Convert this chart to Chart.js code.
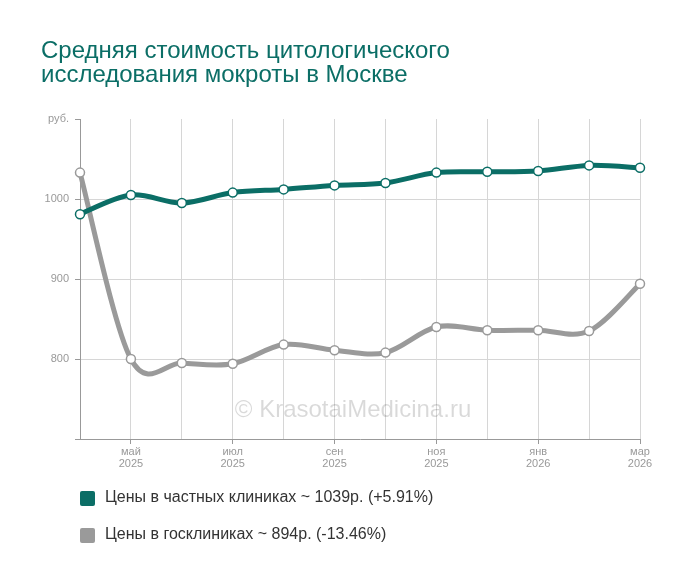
<!DOCTYPE html>
<html>
<head>
<meta charset="utf-8">
<script src="https://cdn.jsdelivr.net/npm/chart.js@4.4.1/dist/chart.umd.min.js"></script>
<style>
  body { margin: 0; background: #fff; font-family: Arial, "Liberation Sans", sans-serif; }
  #wrap { position: relative; width: 700px; height: 582px; }
  #title { position: absolute; left: 41px; top: 38px; font-size: 24px; line-height: 24px; color: #0b6e66; }
  #legend { position: absolute; left: 80px; top: 488px; }
  .item { height: 37px; display: flex; align-items: flex-start; font-size: 16px; color: #333; }
  .box { width: 15px; height: 15px; border-radius: 2px; margin: 3px 10px 0 0; }
</style>
</head>
<body>
<div id="wrap">
  <canvas id="priceChart" width="700" height="582"></canvas>
  <div id="title">Средняя стоимость цитологического<br>исследования мокроты в Москве</div>
  <div id="legend"></div>
</div>
<script>
const months = ['апр', 'май', 'июн', 'июл', 'авг', 'сен', 'окт', 'ноя', 'дек', 'янв', 'фев', 'мар'];
const years = ['2025', '2025', '2025', '2025', '2025', '2025', '2025', '2025', '2025', '2026', '2026', '2026'];
const privatePrices = [981, 1005, 995, 1008, 1012, 1017, 1020, 1033, 1034, 1035, 1042, 1039];
const statePrices = [1033, 800, 795, 794, 818, 811, 808, 840, 836, 836, 835, 894];
const seriesNames = ['Цены в частных клиниках ~ 1039р. (+5.91%)', 'Цены в госклиниках ~ 894р. (-13.46%)'];
const seriesColors = ['#0b6e66', '#9a9a9a'];

// the original curves look like a plain catmull-rom spline, swap chart.js control points for those
const catmullRom = {
    id: 'catmullRom',
    beforeDatasetDraw(chart, args) {
        const line = args.meta.dataset;
        line.updateControlPoints(chart.chartArea, 'x');
        const pts = line.points;
        const n = pts.length;
        for (let i = 0; i < n; i++) {
            const prev = pts[Math.max(i - 1, 0)];
            const next = pts[Math.min(i + 1, n - 1)];
            const p = pts[i];
            p.cp1x = p.x - (next.x - prev.x) / 6;
            p.cp1y = p.y - (next.y - prev.y) / 6;
            p.cp2x = p.x + (next.x - prev.x) / 6;
            p.cp2y = p.y + (next.y - prev.y) / 6;
        }
    }
};

const watermark = {
    id: 'watermark',
    beforeDatasetsDraw(chart) {
        const ctx = chart.ctx;
        const area = chart.chartArea;
        ctx.save();
        ctx.font = '24px Arial, "Liberation Sans", sans-serif';
        ctx.fillStyle = 'rgba(0, 0, 0, 0.15)';
        ctx.textAlign = 'center';
        ctx.fillText('© KrasotaiMedicina.ru', (area.left + area.right) / 2 - 7, area.bottom - 22);
        ctx.restore();
    }
};

const ctx = document.getElementById('priceChart');
const chart = new Chart(ctx, {
    type: 'line',
    data: {
        labels: months,
        datasets: [privatePrices, statePrices].map((values, i) => ({
            label: seriesNames[i],
            data: values,
            borderColor: seriesColors[i],
            borderWidth: 5,
            tension: 0.4,
            pointRadius: 4.5,
            pointBackgroundColor: '#fff',
            pointBorderColor: seriesColors[i],
            pointBorderWidth: 1.5,
        })),
    },
    options: {
        responsive: false,
        animation: false,
        layout: { padding: { left: 41, right: 60, top: 119, bottom: 103 } },
        scales: {
            x: {
                offset: false,
                afterFit: (scale) => { scale.height = 40; },
                border: { color: '#999' },
                grid: {
                    color: '#d6d6d6',
                    tickLength: 5,
                    tickColor: (c) => c.index % 2 === 1 ? '#999' : 'transparent',
                },
                ticks: {
                    autoSkip: false,
                    maxRotation: 0,
                    padding: 2,
                    color: '#999',
                    font: { size: 11, family: 'Arial, "Liberation Sans", sans-serif', lineHeight: 1.1 },
                    callback: function(value, index) {
                        return index % 2 === 1 ? [months[index], years[index]] : '';
                    }
                }
            },
            y: {
                min: 700,
                max: 1100,
                afterFit: (scale) => { scale.width = 39; },
                border: { color: '#999' },
                grid: {
                    color: (c) => (c.tick && (c.tick.value === 1100 || c.tick.value === 700)) ? 'transparent' : '#d6d6d6',
                    tickLength: 5,
                    tickColor: '#999',
                },
                ticks: {
                    stepSize: 100,
                    padding: 6,
                    color: '#999',
                    font: { size: 11, family: 'Arial, "Liberation Sans", sans-serif' },
                    callback: function(value) {
                        if (value === 1100) return 'руб.';
                        if (value === 700) return '';
                        return value;
                    }
                }
            }
        },
        plugins: {
            legend: { display: false },
            tooltip: { enabled: false },
        }
    },
    plugins: [catmullRom, watermark]
});

const legend = document.getElementById('legend');
chart.data.datasets.forEach((ds) => {
    const row = document.createElement('div');
    row.className = 'item';
    const box = document.createElement('span');
    box.className = 'box';
    box.style.background = ds.borderColor;
    row.appendChild(box);
    row.appendChild(document.createTextNode(ds.label));
    legend.appendChild(row);
});
</script>
</body>
</html>
